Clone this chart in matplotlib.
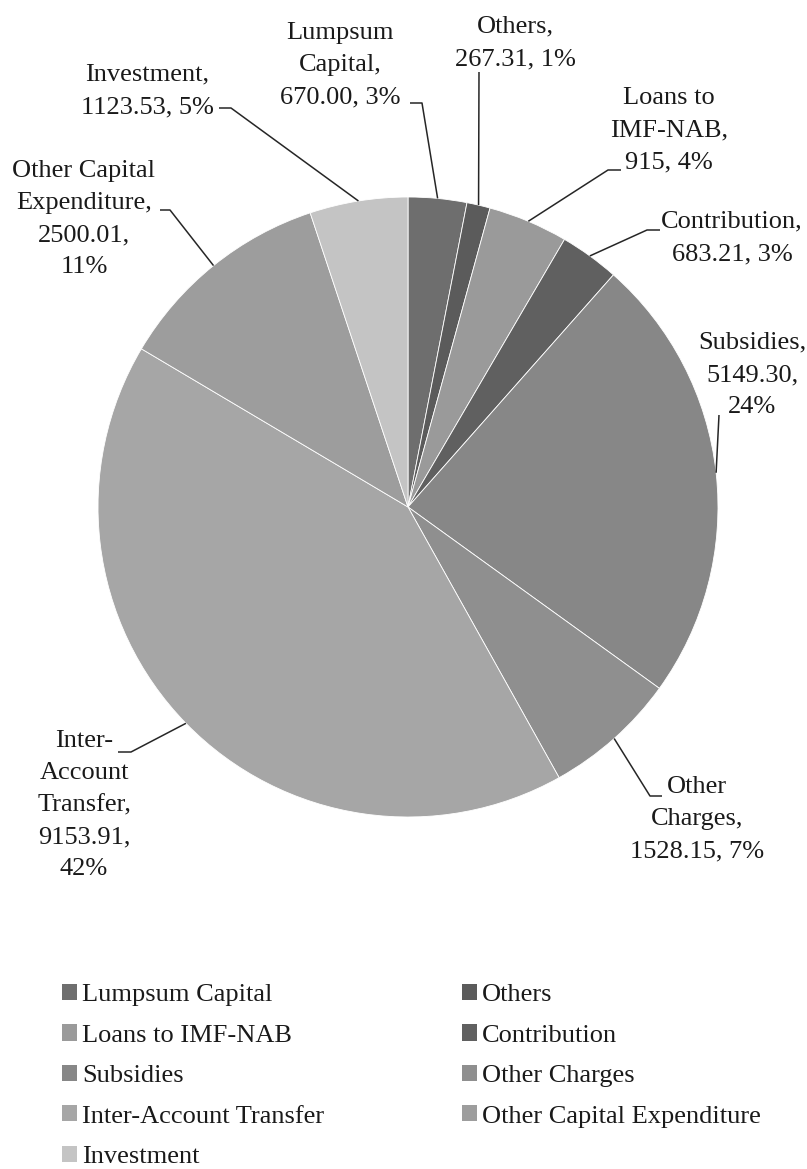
import numpy as np
import matplotlib
matplotlib.use("Agg")
import matplotlib.pyplot as plt

# Expenditure heads, clockwise from 12 o'clock
categories = ["Lumpsum Capital", "Others", "Loans to IMF-NAB", "Contribution",
              "Subsidies", "Other Charges", "Inter-Account Transfer",
              "Other Capital Expenditure", "Investment"]
values = [670.00, 267.31, 915, 683.21, 5149.30, 1528.15, 9153.91, 2500.01, 1123.53]
value_text = ["670.00", "267.31", "915", "683.21", "5149.30", "1528.15",
              "9153.91", "2500.01", "1123.53"]
pct_text = ["3%", "1%", "4%", "3%", "24%", "7%", "42%", "11%", "5%"]
label_templates = [
    "Lumpsum\nCapital,\n{v}, {p}",
    "Others,\n{v}, {p}",
    "Loans to\nIMF-NAB,\n{v}, {p}",
    "Contribution,\n{v}, {p}",
    "Subsidies,\n{v},\n{p}",
    "Other\nCharges,\n{v}, {p}",
    "Inter-\nAccount\nTransfer,\n{v},\n{p}",
    "Other Capital\nExpenditure,\n{v},\n{p}",
    "Investment,\n{v}, {p}",
]
colors = ["#6e6e6e", "#5b5b5b", "#9a9a9a", "#606060", "#878787",
          "#8f8f8f", "#a6a6a6", "#9d9d9d", "#c4c4c4"]

W, H = 807, 1169
cx, cy, R = 408, 507, 310          # pie centre / radius, pixels from top-left

# label centres and leader-line elbows (pixels from top-left)
label_pos = [(340, 65), (515, 43), (669, 130), (732, 238), (752, 375),
             (697, 819), (84, 805), (84, 219), (147, 91)]
leader_pts = [
    [(410, 103), (422, 103)],
    [(479, 72)],
    [(621, 170), (608, 170)],
    [(660, 230), (647, 230)],
    [(719, 415)],
    [(662, 796), (650, 796)],
    [(118, 752), (131, 752)],
    [(160, 210), (170, 210)],
    [(219, 108), (231, 108)],
]

plt.rcParams["font.family"] = ["Liberation Serif", "DejaVu Serif"]

fig = plt.figure(figsize=(W / 100, H / 100), dpi=100)
ax = fig.add_axes([0, 0, 1, 1])

wedges, _ = ax.pie(values, colors=colors, startangle=90, counterclock=False,
                   center=(cx, H - cy), radius=R,
                   wedgeprops=dict(edgecolor="white", linewidth=0.6))
ax.set_xlim(0, W)
ax.set_ylim(0, H)
ax.set_aspect("equal")
ax.axis("off")

for i, w in enumerate(wedges):
    mid = np.deg2rad((w.theta1 + w.theta2) / 2)
    anchor = (cx + R * np.cos(mid), H - cy + R * np.sin(mid))
    pts = [(x, H - y) for x, y in leader_pts[i]] + [anchor]
    xs, ys = zip(*pts)
    ax.plot(xs, ys, color="#262626", lw=1.1, solid_capstyle="butt")
    tx, ty = label_pos[i]
    ax.text(tx, H - ty, label_templates[i].format(v=value_text[i], p=pct_text[i]),
            ha="center", va="center", multialignment="center",
            fontsize=19, linespacing=1.6, color="#1a1a1a")

# legend laid out row by row in two columns
order = [0, 2, 4, 6, 8, 1, 3, 5, 7]
leg = ax.legend([wedges[i] for i in order], [categories[i] for i in order],
                ncol=2, frameon=False, loc="upper left",
                bbox_to_anchor=(62, H - 984), bbox_transform=ax.transData,
                borderpad=0, borderaxespad=0, fontsize=19,
                handlelength=0.57, handleheight=0.57, handletextpad=0.2,
                labelspacing=0.68, columnspacing=5.2)
for t in leg.get_texts():
    t.set_color("#1a1a1a")
for p in leg.get_patches():
    p.set_edgecolor("none")

fig.savefig("out.png", dpi=100, facecolor="white")
